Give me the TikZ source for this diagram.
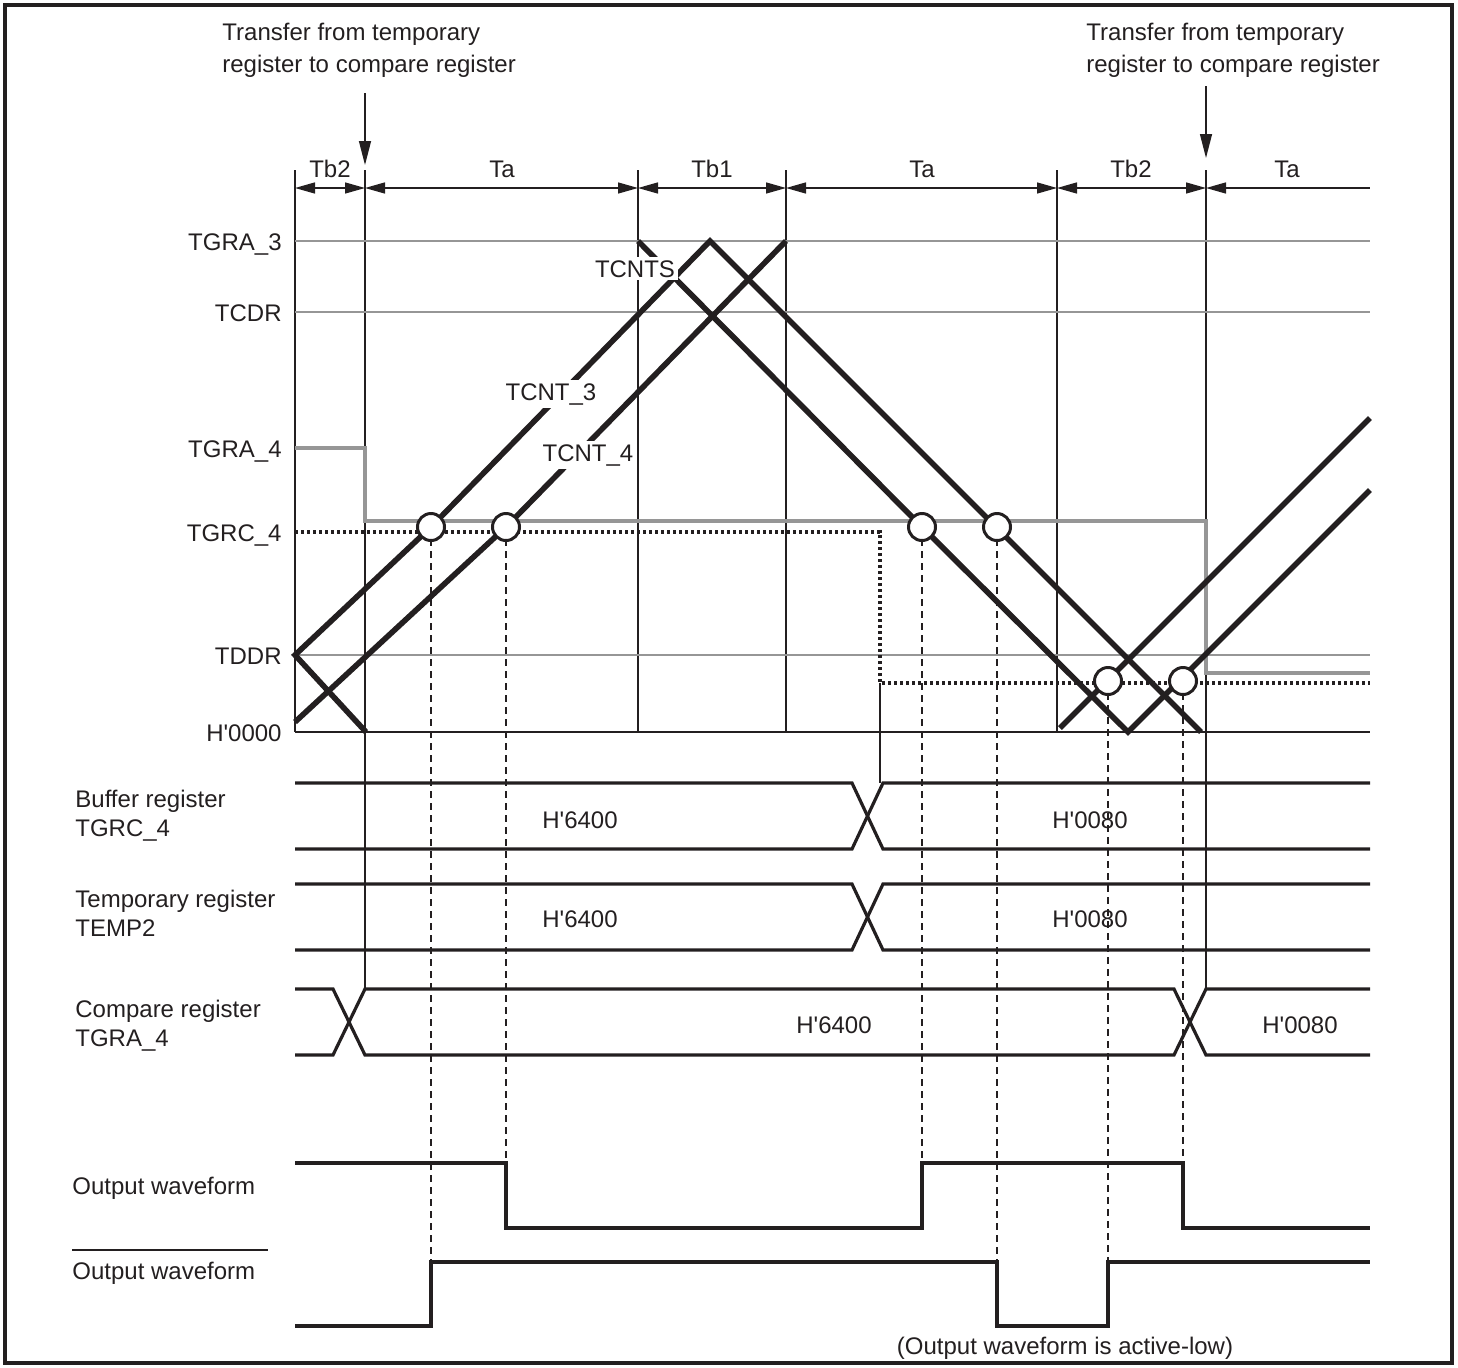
\documentclass[tikz,border=0pt]{standalone}
\usepackage{fontspec}
\setmainfont{Liberation Sans}
\usetikzlibrary{arrows.meta}
\definecolor{tmink}{RGB}{35,31,32}
\definecolor{tmgray}{RGB}{150,150,150}
\tikzset{
  tm/.style={font=\fontsize{12}{14.5}\selectfont, text=tmink},
  tmlbl/.style={tm, inner sep=0pt},
  tmwlbl/.style={tm, fill=white, inner sep=1.5pt},
  tmhead/.style={tm, font=\fontsize{12}{16}\selectfont, align=left, inner sep=0pt},
  tmframe/.style={draw=tmink, line width=1.8pt},
  tmgrid/.style={draw=tmgray, line width=0.75pt},
  tmstep/.style={draw=tmgray, line width=1.6pt},
  tmdot/.style={draw=tmink, line width=1.6pt, dash pattern=on 1.6pt off 1.4pt},
  tmcnt/.style={draw=tmink, line width=2.8pt},
  tmsig/.style={draw=tmink, line width=1.6pt},
  tmthin/.style={draw=tmink, line width=0.7pt},
  tmdash/.style={draw=tmink, line width=0.65pt, dash pattern=on 3.5pt off 2.5pt},
  tmcirc/.style={circle, draw=tmink, fill=white, line width=1.5pt, minimum size=13.5pt, inner sep=0pt},
  tmdim/.style={tmthin, {Triangle[length=10pt,width=5.5pt]}-{Triangle[length=10pt,width=5.5pt]}},
  tmdimr/.style={tmthin, {Triangle[length=10pt,width=5.5pt]}-},
  tmarr/.style={tmthin, -{Triangle[length=12pt,width=6pt]}},
}

\begin{document}
\begin{tikzpicture}[x=0.5pt, y=-0.5pt, tm]
  \useasboundingbox (0,0) rectangle (1458,1367);
  \draw[tmframe] (5,5) rectangle (1452,1363);

  % Transferencias
  \node[tmhead, anchor=north west] (hdl) at (222,23) {Transfer from temporary\\register to compare register};
  \node[tmhead, anchor=north west] (hdr) at (1086,23) {Transfer from temporary\\register to compare register};
  \draw[tmarr] (365,93) -- (365,165);
  \draw[tmarr] (1206,86) -- (1206,158);

  % Periodos
  \foreach \n/\x in {0/295, 1/365, 2/638, 3/786, 4/1057, 5/1206, 6/1370}
    \coordinate (p\n) at (\x,188);
  \foreach \x/\ybot in {295/732, 365/989, 638/732, 786/732, 1057/732, 1206/989}
    \draw[tmthin] (\x,170) -- (\x,\ybot);
  \draw[tmdim] (p0) -- (p1);
  \draw[tmdim] (p1) -- (p2);
  \draw[tmdim] (p2) -- (p3);
  \draw[tmdim] (p3) -- (p4);
  \draw[tmdim] (p4) -- (p5);
  \draw[tmdimr] (p5) -- (p6);
  \node[tmlbl, anchor=base] (tb2a) at (330,177) {Tb2};
  \node[tmlbl, anchor=base] (taa) at (502,177) {Ta};
  \node[tmlbl, anchor=base] (tb1) at (712,177) {Tb1};
  \node[tmlbl, anchor=base] (tab) at (922,177) {Ta};
  \node[tmlbl, anchor=base] (tb2b) at (1131,177) {Tb2};
  \node[tmlbl, anchor=base] (tac) at (1287,177) {Ta};

  % Niveles
  \node[tmlbl, anchor=base east] (lgra3) at (282,250) {TGRA\_3};
  \node[tmlbl, anchor=base east] (lcdr) at (282,321) {TCDR};
  \node[tmlbl, anchor=base east] (lgra4) at (282,457) {TGRA\_4};
  \node[tmlbl, anchor=base east] (lgrc4) at (282,541) {TGRC\_4};
  \node[tmlbl, anchor=base east] (lddr) at (282,664) {TDDR};
  \node[tmlbl, anchor=base east] (lzero) at (282,741) {H\textquotesingle 0000};
  \foreach \y in {241,312,655}
    \draw[tmgrid] (295,\y) -- (1370,\y);
  \draw[tmstep] (295,448) -- (365,448) -- (365,521) -- (1206,521) -- (1206,673) -- (1370,673);
  \draw[tmdot] (295,532) -- (880,532) -- (880,683) -- (1370,683);
  \draw[tmthin] (880,683) -- (880,783);
  \draw[tmthin, line width=0.85pt] (295,732) -- (1370,732);

  % Contadores
  \draw[tmcnt] (366,732) -- (295,655) -- (431,527) -- (710,241) -- (1201,732);
  \draw[tmcnt] (295,722) -- (506,527) -- (786,241);
  \draw[tmcnt] (638,241) -- (922,527) -- (1128,732) -- (1370,490);
  \draw[tmcnt] (1060,728) -- (1370,418);

  % Comparaciones
  \coordinate (k1) at (431,527);
  \coordinate (k2) at (506,527);
  \coordinate (k3) at (922,527);
  \coordinate (k4) at (997,527);
  \coordinate (k5) at (1108,681);
  \coordinate (k6) at (1183,681);
  \foreach \k/\yend in {k1/1262, k2/1163, k3/1163, k4/1262, k5/1262, k6/1163}
    \draw[tmdash] (\k) -- (\k |- 0,\yend);
  \foreach \k in {k1,k2,k3,k4,k5,k6}
    \node[tmcirc] (c\k) at (\k) {};

  \node[tmwlbl, anchor=base] (lcnts) at (635,277) {TCNTS};
  \node[tmwlbl, anchor=base] (lcnt3) at (551,400) {TCNT\_3};
  \node[tmwlbl, anchor=base] (lcnt4) at (588,461) {TCNT\_4};

  % Registros
  \node[tmlbl, anchor=north west, align=left] (rbuf) at (75,790) {Buffer register\\TGRC\_4};
  \node[tmlbl, anchor=north west, align=left] (rtmp) at (75,890) {Temporary register\\TEMP2};
  \node[tmlbl, anchor=north west, align=left] (rcmp) at (75,1000) {Compare register\\TGRA\_4};
  \draw[tmsig] (295,783) -- (852,783) -- (883,849) -- (1370,849);
  \draw[tmsig] (295,849) -- (852,849) -- (883,783) -- (1370,783);
  \draw[tmsig] (295,884) -- (852,884) -- (883,950) -- (1370,950);
  \draw[tmsig] (295,950) -- (852,950) -- (883,884) -- (1370,884);
  \draw[tmsig] (295,989) -- (333,989) -- (365,1055) -- (1174,1055) -- (1206,989) -- (1370,989);
  \draw[tmsig] (295,1055) -- (333,1055) -- (365,989) -- (1174,989) -- (1206,1055) -- (1370,1055);
  \node[tmlbl, anchor=base] (vbuf1) at (580,828) {H\textquotesingle 6400};
  \node[tmlbl, anchor=base] (vbuf2) at (1090,828) {H\textquotesingle 0080};
  \node[tmlbl, anchor=base] (vtmp1) at (580,927) {H\textquotesingle 6400};
  \node[tmlbl, anchor=base] (vtmp2) at (1090,927) {H\textquotesingle 0080};
  \node[tmlbl, anchor=base] (vcmp1) at (834,1033) {H\textquotesingle 6400};
  \node[tmlbl, anchor=base] (vcmp2) at (1300,1033) {H\textquotesingle 0080};

  % Salidas
  \node[tmlbl, anchor=base west] (lout) at (72,1194) {Output waveform};
  \node[tmlbl, anchor=base west] (loutn) at (72,1279) {Output waveform};
  \draw[tmthin] (72,1250) -- (268,1250);
  \draw[tmsig] (295,1163) -| (k2 |- 0,1228) -| (k3 |- 0,1163) -| (k6 |- 0,1228) -- (1370,1228);
  \draw[tmsig] (295,1326) -| (k1 |- 0,1262) -| (k4 |- 0,1326) -| (k5 |- 0,1262) -- (1370,1262);
  \node[tmlbl, anchor=base] (note) at (1065,1354) {(Output waveform is active-low)};
\end{tikzpicture}
\end{document}
